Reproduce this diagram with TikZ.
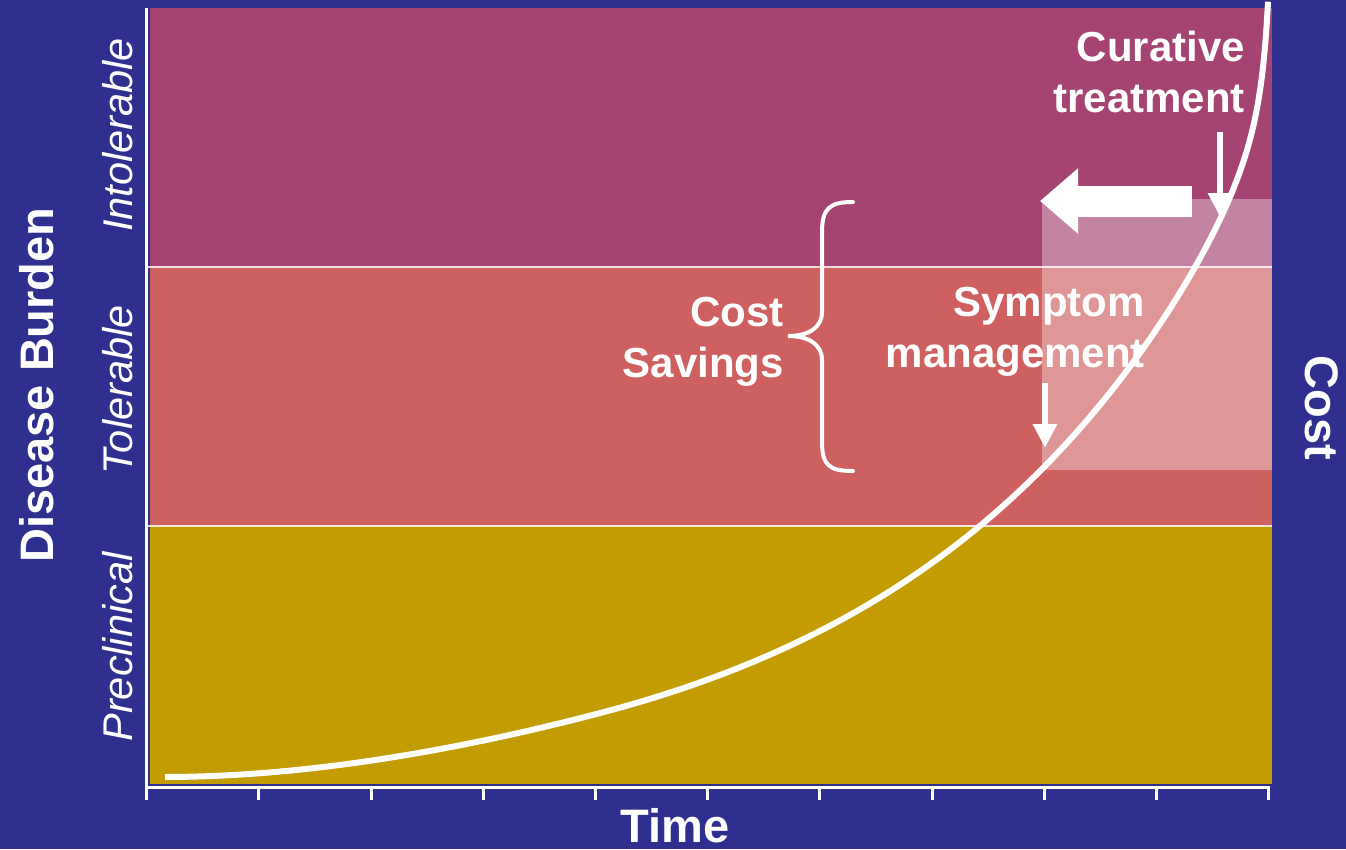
\documentclass[tikz,border=0pt]{standalone}
\usepackage{fontspec}
\setmainfont{Liberation Sans}
\usetikzlibrary{arrows.meta}
\definecolor{bgblue}{RGB}{47,47,143}
\definecolor{intol}{RGB}{165,68,115}
\definecolor{tol}{RGB}{207,96,96}
\definecolor{precl}{RGB}{194,156,0}
\tikzset{
  bandline/.style={draw=white, line width=2pt, opacity=0.8},
  axisline/.style={draw=white, line width=3pt},
  bigtext/.style={text=white, font=\fontsize{42}{51}\selectfont\bfseries, inner sep=0pt, align=right},
  axtitle/.style={text=white, font=\fontsize{47}{56}\selectfont\bfseries, inner sep=0pt},
  bandlabel/.style={text=white, font=\fontsize{41.5}{50}\selectfont\itshape, inner sep=0pt, rotate=90},
  downarrow/.style={draw=white, line width=6pt, -{Triangle[length=24pt,width=23pt]}},
  declare function={
    tt(\s)=1103*(1-(1-\s)^3);
    dd(\t)=23.4*(exp(0.003*\t)-1)+1400*(1/(1112-\t)-1/1112)-0.07*\t*(max(0,1-\t/435))^2;
  },
}
\begin{document}
\begin{tikzpicture}[x=1pt,y=-1pt]
\useasboundingbox (0,0) rectangle (1346,849);
\fill[bgblue] (0,0) rectangle (1346,849);
% bands
\fill[intol] (150,8) rectangle (1272,267);
\fill[tol] (150,267) rectangle (1272,526);
\fill[precl] (150,526) rectangle (1272,784);
\draw[bandline] (148,267) -- (1272,267);
\draw[bandline] (148,526) -- (1272,526);
% highlight
\fill[white, opacity=0.34] (1042,199) rectangle (1272,470);
% axes
\draw[axisline] (146.7,8) -- (146.7,800);
\draw[axisline] (145.2,787) -- (1270.2,787);
\foreach \k in {1,...,10} {
  \draw[axisline] ({146.7+112.2*\k},787) -- ({146.7+112.2*\k},800);
}
% curve
\draw[white, line width=6pt, line join=round] plot[domain=0:0.995, samples=400, variable=\s]
  ({165+tt(\s)}, {777-dd(tt(\s))});
% arrows
\coordinate (bigS) at (1192,201);
\coordinate (bigE) at (1040,201);
\draw[white, line width=31pt, -{Triangle[length=38pt,width=63pt]}] (bigS) -- (bigE);
\coordinate (ctS) at (1220,132);
\coordinate (ctE) at (1220,217);
\draw[downarrow] (ctS) -- (ctE);
\coordinate (smS) at (1045,383);
\coordinate (smE) at (1045,448);
\draw[downarrow] (smS) -- (smE);
% brace
\draw[white, line width=4pt, line cap=round]
  (853,202) .. controls (830,202) and (822,208) .. (822,232)
  -- (822,312) .. controls (822,328) and (808,336) .. (788,336)
  .. controls (808,336) and (822,344) .. (822,360)
  -- (822,442) .. controls (822,466) and (830,471) .. (853,471);
% texts
\node[bigtext, anchor=base east] (cur) at (1245,112) {Curative\\treatment};
\node[bigtext, anchor=base east] (sym) at (1145,367) {Symptom\\management};
\node[bigtext, anchor=base east] (cs) at (784,377) {Cost\\Savings};
\node[axtitle] (time) at (675,826) {Time};
\node[axtitle, rotate=90] (db) at (37,385) {Disease Burden};
\node[axtitle, rotate=-90] (cost) at (1322,408) {Cost};
\node[bandlabel] (l1) at (118,135) {Intolerable};
\node[bandlabel] (l2) at (118,390) {Tolerable};
\node[bandlabel] (l3) at (118,647) {Preclinical};
\end{tikzpicture}
\end{document}
